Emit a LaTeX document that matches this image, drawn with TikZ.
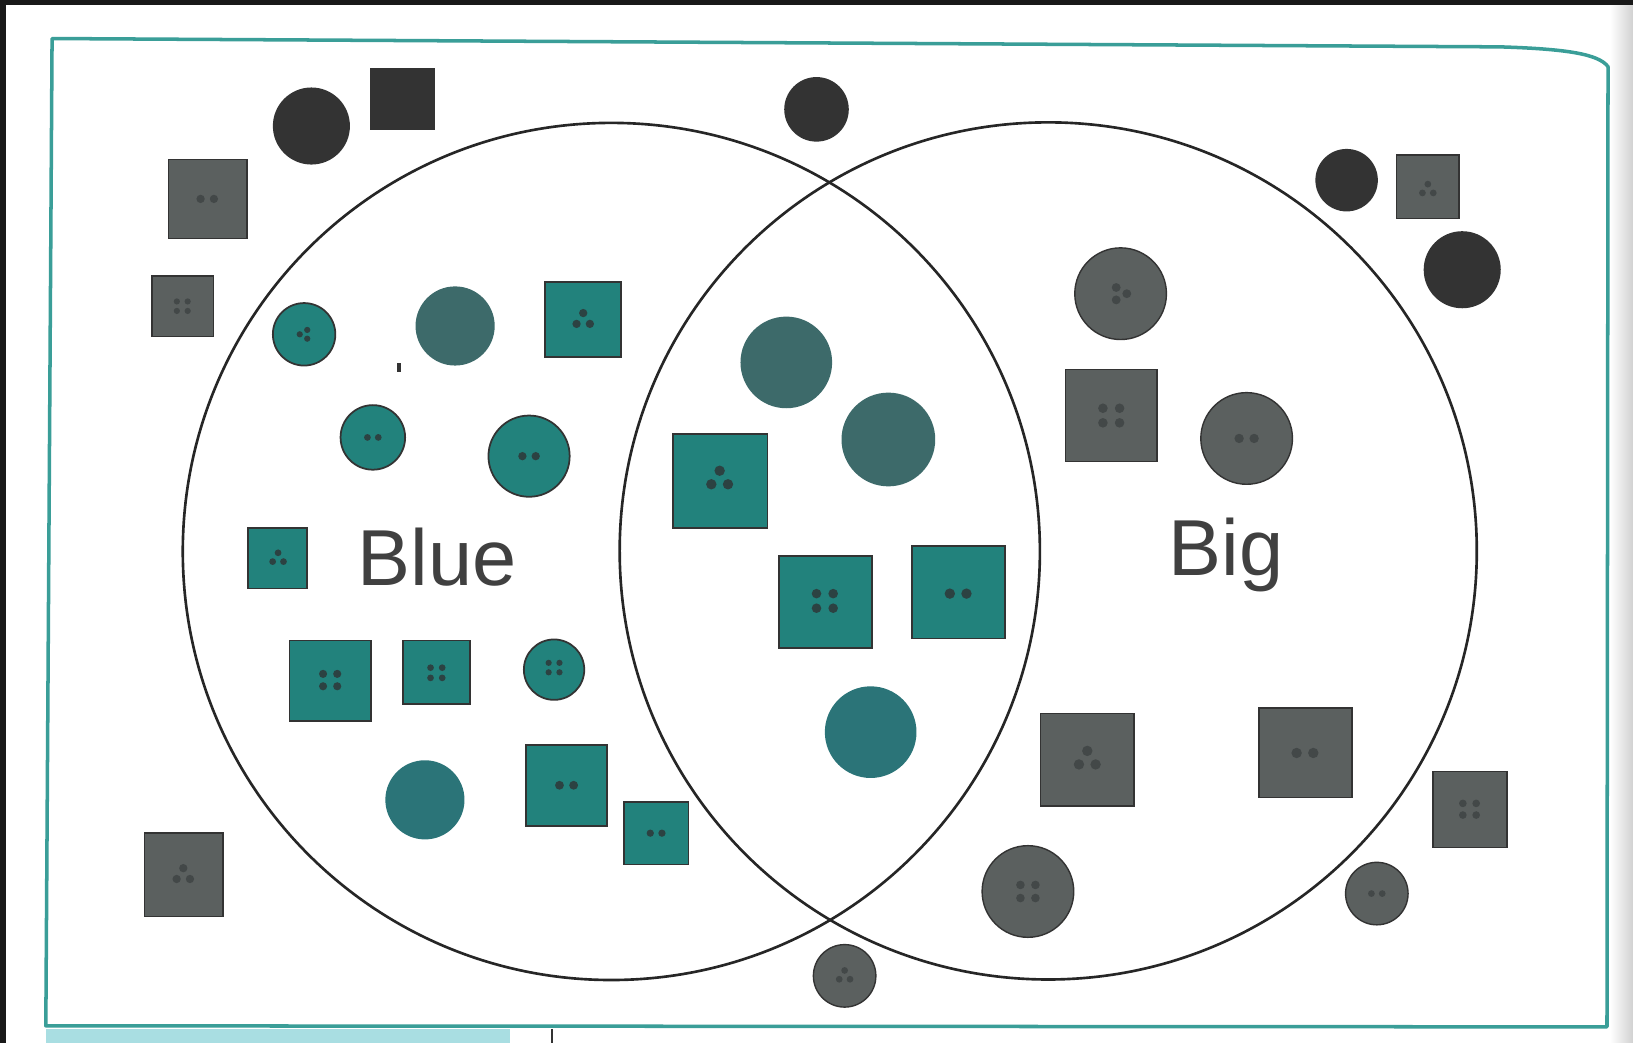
\documentclass[tikz,border=0pt]{standalone}
\usepackage{fontspec}
\setmainfont{Liberation Sans}
\definecolor{frameteal}{HTML}{3A9E98}
\definecolor{btnteal}{HTML}{22827C}
\definecolor{plainteal}{HTML}{3D6A6A}
\definecolor{midteal}{HTML}{2B7478}
\definecolor{btngray}{HTML}{5B605F}
\definecolor{ink}{HTML}{333333}
\definecolor{tealdot}{HTML}{2C4242}
\definecolor{graydot}{HTML}{434848}
\definecolor{strip}{HTML}{A9DEE2}
\definecolor{labelgray}{HTML}{404040}
\tikzset{
  tealbtn/.style={fill=btnteal, draw=ink, line width=0.5pt},
  graybtn/.style={fill=btngray, draw=ink, line width=0.4pt},
  plainshape/.style={fill=plainteal},
  midshape/.style={fill=midteal},
  blackshape/.style={fill=ink},
  vennline/.style={draw=black!85, line width=0.75pt},
  setlabel/.style={text=labelgray, font=\fontsize{22.6}{27}\selectfont, inner sep=0pt, anchor=base},
  twoholes/.pic={\fill[pic actions] (-8,0) circle (5) (8,0) circle (5);},
  fourholes/.pic={\fill[pic actions] (-8,-7) circle (4.6) (8,-7) circle (4.6) (-8,7) circle (4.6) (8,7) circle (4.6);},
  threeholes/.pic={\fill[pic actions] (0,-8) circle (5) (-8,5) circle (5) (8,5) circle (5);},
  threeleft/.pic={\fill[pic actions] (-7,0) circle (5) (5,-7) circle (5) (5,7) circle (5);},
  threeright/.pic={\fill[pic actions] (7,0) circle (5) (-5,-7) circle (5) (-5,7) circle (5);},
}
\begin{document}
\begin{tikzpicture}[x=0.010415cm, y=-0.010415cm]
\useasboundingbox (0,0) rectangle (1568,1001);
% page and scanner edges
\fill[white] (0,0) rectangle (1568,1001);
\shade[left color=white, right color=black!18] (1546,0) rectangle (1568,1001);
\fill[black!90] (0,0) rectangle (1568,5);
\fill[black!90] (0,0) rectangle (6,1001);
% card frame
\draw[frameteal, line width=1pt, line join=round]
  (50,37) -- (1440,45) .. controls (1505,47) and (1535,52) .. (1544,64)
  -- (1543,986) -- (44,985) -- cycle;
\fill[strip] (44,988) rectangle (490,1001);
\draw[ink, line width=0.7pt] (530,988) -- (530,1001);

% shapes outside both sets
\fill[blackshape] (299,121) circle (37);
\fill[blackshape] (355,65) rectangle (418,125);
\fill[blackshape] (784,105) circle (31);
\filldraw[graybtn] (162,153) rectangle (237,229);
\path (199,191) pic[scale=0.8, fill=graydot] {twoholes};
\filldraw[graybtn] (146,265) rectangle (205,323);
\path (175,294) pic[scale=0.65, fill=graydot] {fourholes};
\fill[blackshape] (1293,173) circle (30);
\filldraw[graybtn] (1341,149) rectangle (1401,210);
\path (1371,182) pic[scale=0.65, fill=graydot] {threeholes};
\fill[blackshape] (1404,259) circle (37);
\filldraw[graybtn] (139,800) rectangle (214,880);
\path (176,840) pic[scale=0.8, fill=graydot] {threeholes};
\filldraw[graybtn] (811,937) circle (30);
\path (811,937) pic[scale=0.65, fill=graydot] {threeholes};
\filldraw[graybtn] (1376,741) rectangle (1447,814);
\path (1411,777) pic[scale=0.8, fill=graydot] {fourholes};
\filldraw[graybtn] (1322,858) circle (30);
\path (1322,858) pic[scale=0.65, fill=graydot] {twoholes};

% blue only
\filldraw[tealbtn] (292,321) circle (30);
\path (292,321) pic[scale=0.6, fill=tealdot] {threeleft};
\fill[plainshape] (437,313) circle (38);
\filldraw[tealbtn] (523,271) rectangle (596,343);
\path (560,307) pic[scale=0.8, fill=tealdot] {threeholes};
\draw[ink, line width=1.2pt] (383,349) -- (383,357);
\filldraw[tealbtn] (358,420) circle (31);
\path (358,420) pic[scale=0.65, fill=tealdot] {twoholes};
\filldraw[tealbtn] (508,438) circle (39);
\path (508,438) pic[scale=0.8, fill=tealdot] {twoholes};
\filldraw[tealbtn] (238,507) rectangle (295,565);
\path (267,536) pic[scale=0.65, fill=tealdot] {threeholes};
\filldraw[tealbtn] (278,615) rectangle (356,692);
\path (317,653) pic[scale=0.85, fill=tealdot] {fourholes};
\filldraw[tealbtn] (387,615) rectangle (451,676);
\path (419,646) pic[scale=0.7, fill=tealdot] {fourholes};
\filldraw[tealbtn] (532,643) circle (29);
\path (532,641) pic[scale=0.65, fill=tealdot] {fourholes};
\fill[midshape] (408,768) circle (38);
\filldraw[tealbtn] (505,715) rectangle (583,793);
\path (544,754) pic[scale=0.85, fill=tealdot] {twoholes};
\filldraw[tealbtn] (599,770) rectangle (661,830);
\path (630,800) pic[scale=0.7, fill=tealdot] {twoholes};

% blue and big
\fill[plainshape] (755,348) circle (44);
\fill[plainshape] (853,422) circle (45);
\filldraw[tealbtn] (646,417) rectangle (737,507);
\path (691,460) pic[scale=1, fill=tealdot] {threeholes};
\filldraw[tealbtn] (748,534) rectangle (837,622);
\path (792,577) pic[scale=1, fill=tealdot] {fourholes};
\filldraw[tealbtn] (876,524) rectangle (965,613);
\path (920,570) pic[scale=1, fill=tealdot] {twoholes};
\fill[midshape] (836,703) circle (44);

% big only
\filldraw[graybtn] (1076,282) circle (44);
\path (1076,282) pic[scale=0.85, fill=graydot] {threeright};
\filldraw[graybtn] (1023,355) rectangle (1111,443);
\path (1067,399) pic[scale=1, fill=graydot] {fourholes};
\filldraw[graybtn] (1197,421) circle (44);
\path (1197,421) pic[scale=0.9, fill=graydot] {twoholes};
\filldraw[graybtn] (999,685) rectangle (1089,774);
\path (1044,729) pic[scale=1, fill=graydot] {threeholes};
\filldraw[graybtn] (1209,680) rectangle (1298,766);
\path (1253,723) pic[scale=1, fill=graydot] {twoholes};
\filldraw[graybtn] (987,856) circle (44);
\path (987,856) pic[scale=0.9, fill=graydot] {fourholes};

% the two sets
\draw[vennline] (587,529.5) circle (411.5);
\draw[vennline] (1006.5,529) circle (411.5);
\node[setlabel] (blue) at (420,562) {Blue};
\node[setlabel] (big) at (1177,553) {Big};
\end{tikzpicture}
\end{document}
